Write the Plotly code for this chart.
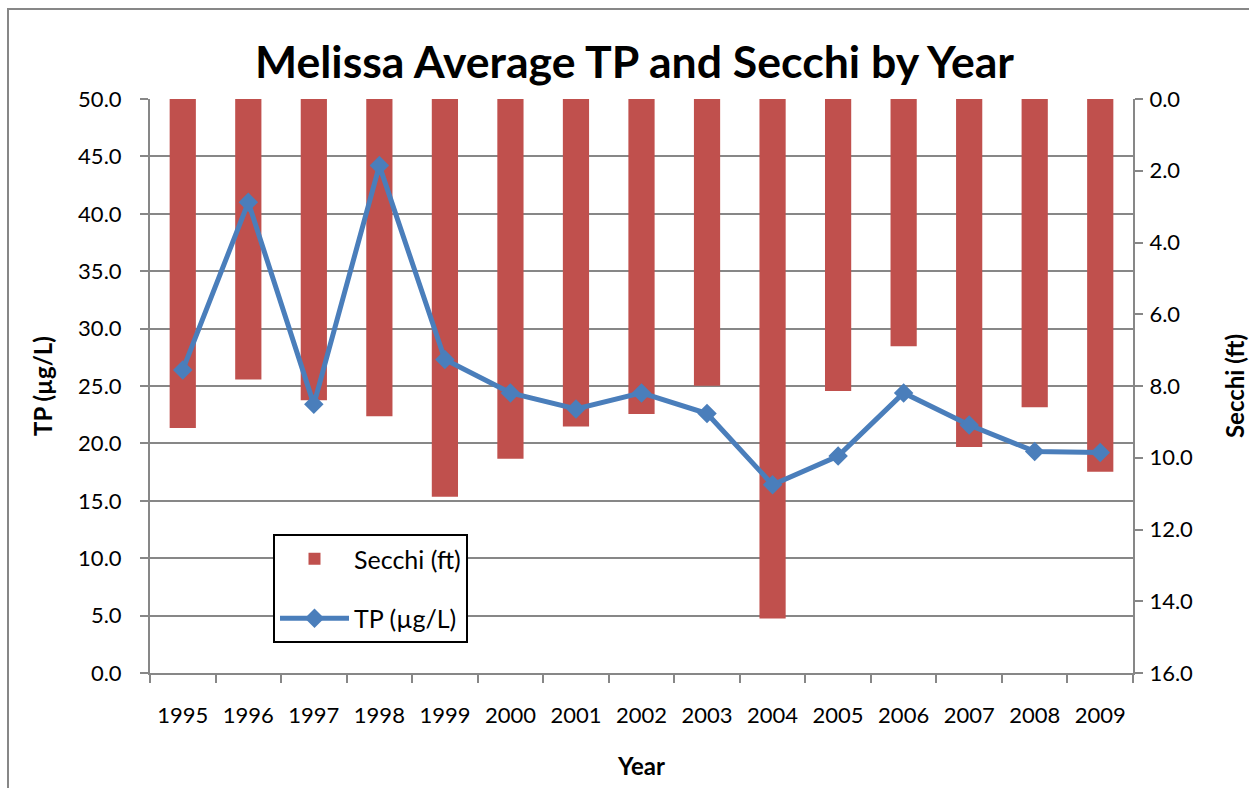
import plotly.graph_objects as go

years = ["1995", "1996", "1997", "1998", "1999", "2000", "2001", "2002",
         "2003", "2004", "2005", "2006", "2007", "2008", "2009"]
secchi_ft = [9.17, 7.82, 8.40, 8.84, 11.09, 10.03, 9.13, 8.78,
             7.99, 14.48, 8.14, 6.89, 9.70, 8.59, 10.39]
tp_ugl = [26.4, 41.0, 23.4, 44.2, 27.3, 24.4, 23.0, 24.4,
          22.6, 16.4, 18.9, 24.4, 21.6, 19.3, 19.2]

left_ticks = [0, 5, 10, 15, 20, 25, 30, 35, 40, 45, 50]
right_ticks = [0, 2, 4, 6, 8, 10, 12, 14, 16]

GRID = "#878787"
FONT = "Lato"

fig = go.Figure()
fig.add_trace(go.Bar(
    x=years, y=secchi_ft, name="Secchi (ft)", yaxis="y",
    marker=dict(color="#C0504D", line=dict(width=0)),
    width=0.4, legendgroup="s",
))
fig.add_trace(go.Scatter(
    x=years, y=tp_ugl, name="TP (µg/L)", yaxis="y2", mode="lines+markers",
    line=dict(color="#4A7EBB", width=5),
    marker=dict(symbol="diamond", size=15, color="#4A7EBB"),
    legendgroup="t",
))

fig.update_layout(
    width=1249, height=788,
    margin=dict(l=150, r=116, t=99, b=115),
    paper_bgcolor="white", plot_bgcolor="white",
    font=dict(family=FONT, size=22, color="black"),
    showlegend=True,
    title=dict(text="Melissa Average TP and Secchi by Year",
               font=dict(family=FONT, size=44.6, weight="bold", color="black"),
               x=0.4929, xref="paper", xanchor="center",
               y=1 - 62 / 788, yref="container", yanchor="middle"),
    xaxis=dict(
        type="category", range=[-0.5, len(years) - 0.5],
        tickson="boundaries", ticks="outside", ticklen=8,
        tickcolor=GRID, tickwidth=2, showline=True, linecolor=GRID, linewidth=2,
        showgrid=False, ticklabelstandoff=22, automargin=False,
        title=dict(text="Year", font=dict(size=24, weight="bold"), standoff=31),
    ),
    yaxis=dict(
        side="right", range=[16, 0], tickvals=right_ticks, tickformat=".1f",
        ticks="outside", ticklen=8, tickcolor=GRID, tickwidth=2,
        showline=True, linecolor=GRID, linewidth=2, showgrid=False,
        zeroline=False, ticklabelstandoff=2, automargin=False,
        title=dict(text="Secchi (ft)", font=dict(size=24, weight="bold"), standoff=38),
    ),
    yaxis2=dict(
        overlaying="y", side="left", range=[0, 50], tickvals=left_ticks,
        tickformat=".1f", ticks="outside", ticklen=8, tickcolor=GRID, tickwidth=2,
        showline=True, linecolor=GRID, linewidth=2, showgrid=True,
        gridcolor=GRID, gridwidth=2, zeroline=False, ticklabelstandoff=14,
        automargin=False,
        title=dict(text="TP (µg/L)", font=dict(size=24, weight="bold"), standoff=19),
    ),
    legend=dict(
        x=(273 - 150) / 983, y=(673 - 534) / 574, xanchor="left", yanchor="top",
        bgcolor="white", bordercolor="black", borderwidth=2,
        font=dict(size=25), tracegroupgap=24, itemwidth=69,
        traceorder="grouped",
    ),
    shapes=[dict(type="rect", xref="paper", yref="paper",
                 x0=(8 - 150) / 983, x1=(1300 - 150) / 983,
                 y0=(673 - 850) / 574, y1=(673 - 9) / 574,
                 line=dict(color=GRID, width=2), layer="below")],
)

fig.write_html("out.html", config={"displayModeBar": False},
               post_script="document.body.style.margin='0';"
                           "document.body.style.overflow='hidden';")
